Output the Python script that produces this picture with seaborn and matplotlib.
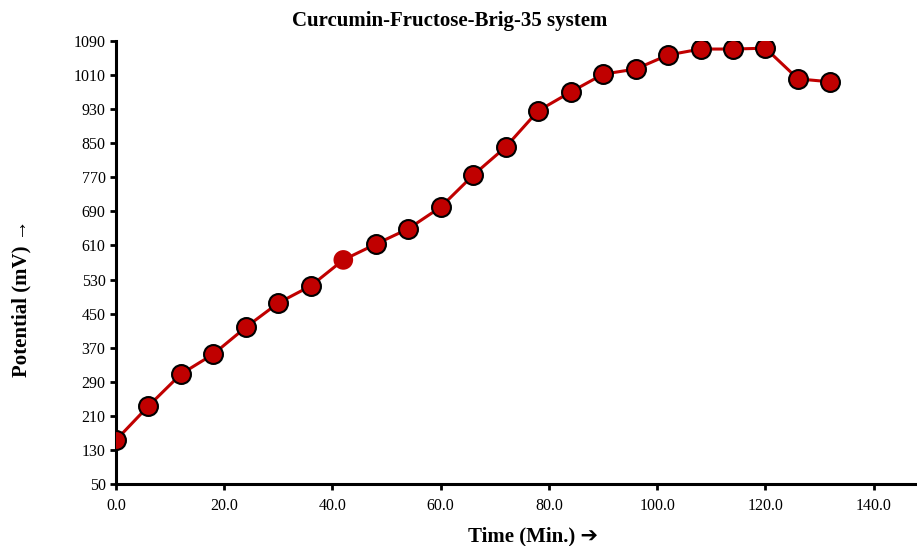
import numpy as np
import pandas as pd
import matplotlib
matplotlib.use("Agg")
import matplotlib.pyplot as plt
import seaborn as sns

# --- data ---
time_min = [0, 6, 12, 18, 24, 30, 36, 42, 48, 54, 60, 66, 72, 78, 84, 90,
            96, 102, 108, 114, 120, 126, 132]
potential_mv = [153, 233, 308, 355, 418, 475, 515, 576, 613, 649, 700, 775,
                841, 926, 970, 1012, 1024, 1057, 1071, 1071, 1073, 1001, 994]
# point drawn without the black outline
plain_index = 7

x_ticks = [0, 20, 40, 60, 80, 100, 120, 140]
y_ticks = list(range(50, 1091, 80))

df = pd.DataFrame({"Time": time_min, "Potential": potential_mv})

sns.set_style("ticks")
plt.rcParams['font.family'] = ['Liberation Serif', 'DejaVu Sans']
plt.rcParams['text.color'] = 'black'
plt.rcParams['axes.labelcolor'] = 'black'

red = "#C00000"

fig = plt.figure(figsize=(9.17, 5.46), dpi=100)
ax = fig.add_axes([0.1265, 0.1136, 0.8735, 0.8114])

mask = np.arange(len(df)) != plain_index
sns.lineplot(data=df, x="Time", y="Potential", color=red, linewidth=2.2,
             ax=ax, zorder=2)
sns.scatterplot(data=df[mask], x="Time", y="Potential", color=red, s=185,
                edgecolor="black", linewidth=1.5, ax=ax, zorder=3)
sns.scatterplot(data=df[~mask], x="Time", y="Potential", color=red, s=200,
                edgecolor="none", ax=ax, zorder=3)

ax.set_xlim(0, 148)
ax.set_ylim(50, 1090)
ax.set_xticks(x_ticks)
ax.set_xticklabels([f"{v:.1f}" for v in x_ticks])
ax.set_yticks(y_ticks)

for side in ["top", "right"]:
    ax.spines[side].set_visible(False)
for side in ["left", "bottom"]:
    ax.spines[side].set_linewidth(2.2)
    ax.spines[side].set_color("black")
ax.tick_params(axis="both", direction="out", length=4, width=2,
               labelsize=11.5, colors="black")
ax.tick_params(axis="x", pad=6)

ax.set_xlabel("Time (Min.) \u2794", fontsize=15, fontweight="bold")
ax.set_ylabel("Potential (mV) \u2192", fontsize=15, fontweight="bold")
ax.xaxis.set_label_coords(0.52, -0.095)
ax.yaxis.set_label_coords(-0.105, 0.42)

fig.text(0.49, 0.962, "Curcumin-Fructose-Brig-35 system", ha="center",
         va="center", fontsize=15, fontweight="bold")

fig.savefig("out.png", dpi=100)
